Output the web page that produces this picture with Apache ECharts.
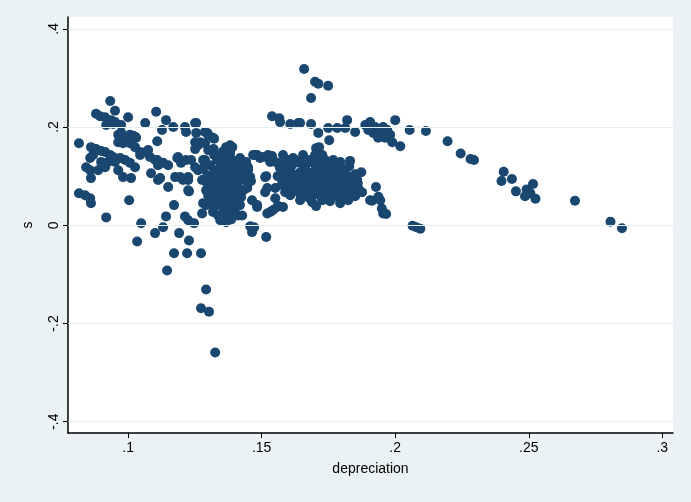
<!DOCTYPE html>
<html><head><meta charset="utf-8">
<script src="https://cdn.jsdelivr.net/npm/echarts@6/dist/echarts.min.js"></script>
<style>html,body{margin:0;padding:0;background:#eaf2f3;}#c{width:691px;height:502px;}</style>
</head><body><div id="c"></div>
<script>
var xTickValues = [0.1, 0.15, 0.2, 0.25, 0.3];
var xTickLabels = ['.1', '.15', '.2', '.25', '.3'];
var yTickValues = [-0.4, -0.2, 0, 0.2, 0.4];
var yTickLabels = ['-.4', '-.2', '0', '.2', '.4'];
var xTitle = 'depreciation';
var yTitle = 's';

// top outliers and upper band (y ~ .2)
var upperBand = [
[0.1659,0.318],[0.1700,0.292],[0.1712,0.288],[0.1749,0.284],[0.1685,0.259],
[0.1539,0.222],[0.1566,0.218],[0.1569,0.210],[0.1607,0.206],[0.1637,0.208],[0.1685,0.206],
[0.1712,0.188],[0.1749,0.198],[0.1753,0.173],[0.1783,0.198],[0.1820,0.214],[0.1813,0.198],
[0.1850,0.190],[0.1715,0.159],[0.1888,0.204],[0.1906,0.210],[0.1925,0.200],[0.1918,0.188],
[0.1936,0.178],[0.1970,0.194],[0.1981,0.184],[0.1989,0.169],[0.2019,0.161],[0.2000,0.214],
[0.1644,0.208],[0.1955,0.200],[0.1947,0.186],[0.1899,0.194],[0.1962,0.178]
];
// right tail
var rightTail = [
[0.2054,0.194],[0.2115,0.192],[0.2196,0.171],[0.2245,0.146],[0.2282,0.135],[0.2295,0.133],
[0.2406,0.109],[0.2398,0.090],[0.2437,0.094],[0.2452,0.069],[0.2492,0.073],[0.2516,0.084],
[0.2506,0.065],[0.2486,0.059],[0.2525,0.054],[0.2673,0.050],[0.2806,0.007],[0.2849,-0.006],
[0.2065,-0.001],[0.2079,-0.004],[0.2094,-0.007],[0.1966,0.023],
[0.1928,0.078],[0.1913,0.050],[0.1937,0.058],[0.1950,0.034],[0.1828,0.120],[0.1873,0.108],
[0.1850,0.104],[0.1839,0.090],[0.1704,0.039],[0.1955,0.024],[0.1944,0.051],[0.1906,0.051]
];
// middle cluster (x ~ .15-.19)
var middleCluster = [
[0.1476,0.143],[0.1494,0.137],[0.1524,0.143],[0.1532,0.129],[0.1580,0.143],[0.1599,0.133],
[0.1614,0.122],[0.1655,0.143],[0.1700,0.143],[0.1727,0.143],[0.1513,0.098],[0.1521,0.076],
[0.1513,0.067],[0.1551,0.076],[0.1551,0.055],[0.1558,0.037],[0.1532,0.027],[0.1580,0.037],
[0.1483,0.037],[0.1569,0.116],[0.1588,0.108],[0.1607,0.112],[0.1625,0.102],[0.1644,0.108],
[0.1663,0.116],[0.1682,0.106],[0.1700,0.112],[0.1719,0.118],[0.1738,0.108],[0.1756,0.112],
[0.1775,0.116],[0.1794,0.104],[0.1813,0.110],[0.1577,0.092],[0.1595,0.086],[0.1614,0.096],
[0.1633,0.088],[0.1652,0.082],[0.1670,0.092],[0.1689,0.086],[0.1708,0.096],[0.1727,0.088],
[0.1745,0.082],[0.1764,0.092],[0.1783,0.086],[0.1801,0.096],[0.1820,0.088],[0.1839,0.082],
[0.1858,0.092],[0.1588,0.067],[0.1607,0.061],[0.1625,0.071],[0.1644,0.063],[0.1663,0.059],
[0.1682,0.069],[0.1700,0.063],[0.1719,0.071],[0.1738,0.061],[0.1756,0.067],[0.1775,0.059],
[0.1794,0.071],[0.1813,0.063],[0.1831,0.069],[0.1850,0.059],[0.1625,0.133],[0.1644,0.127],
[0.1682,0.129],[0.1712,0.129],[0.1738,0.133],[0.1768,0.133],[0.1794,0.129],[0.1831,0.131],
[0.1644,0.051],[0.1689,0.047],[0.1727,0.051],[0.1756,0.049],[0.1794,0.045],[0.1824,0.051],
[0.1861,0.076],[0.1876,0.067],[0.1730,0.116],[0.1682,0.133],[0.1517,0.139],[0.1539,0.141],
[0.1704,0.157],
[0.1560,0.100],[0.1580,0.125],[0.1610,0.104],[0.1640,0.096],[0.1660,0.101],[0.1690,0.098],
[0.1720,0.101],[0.1750,0.097],[0.1770,0.103],[0.1800,0.115],[0.1820,0.100],[0.1840,0.097],
[0.1860,0.085],[0.1600,0.075],[0.1640,0.078],[0.1670,0.075],[0.1710,0.078],[0.1740,0.074],
[0.1770,0.077],[0.1800,0.080],[0.1830,0.075],[0.1660,0.124],[0.1700,0.124],[0.1750,0.124],
[0.1790,0.120],[0.1680,0.055],[0.1720,0.060],[0.1760,0.055],[0.1800,0.057],[0.1620,0.085],
[0.1575,0.082]
];
// cluster around x ~ .125-.16
var centerCluster = [
[0.1251,0.208],[0.1288,0.190],[0.1300,0.184],[0.1318,0.178],[0.1251,0.169],[0.1262,0.163],
[0.1382,0.163],[0.1375,0.149],[0.1371,0.139],[0.1502,0.139],[0.1543,0.133],[0.1558,0.127],
[0.1618,0.137],[0.1419,0.137],[0.1431,0.122],[0.1449,0.112],[0.1457,0.098],[0.1449,0.086],
[0.1517,0.100],[0.1464,0.051],[0.1483,0.041],[0.1521,0.024],[0.1562,0.039],[0.1543,0.031],
[0.1281,0.045],[0.1277,0.024],[0.1427,0.020],[0.1577,0.106],[0.1599,0.088],[0.1457,-0.002],
[0.1404,0.122],[0.1434,0.112],[0.1442,0.129],
[0.1288,0.133],[0.1307,0.122],[0.1326,0.112],[0.1345,0.116],[0.1363,0.108],[0.1382,0.112],
[0.1401,0.102],[0.1419,0.096],[0.1438,0.092],[0.1296,0.102],[0.1315,0.092],[0.1337,0.088],
[0.1352,0.082],[0.1375,0.086],[0.1393,0.080],[0.1412,0.076],[0.1431,0.071],[0.1292,0.071],
[0.1311,0.067],[0.1330,0.061],[0.1348,0.065],[0.1367,0.059],[0.1386,0.055],[0.1404,0.061],
[0.1423,0.057],[0.1307,0.051],[0.1326,0.043],[0.1345,0.041],[0.1363,0.037],[0.1382,0.045],
[0.1401,0.035],[0.1419,0.041],[0.1318,0.027],[0.1337,0.020],[0.1356,0.024],[0.1375,0.018],
[0.1393,0.027],[0.1412,0.020],[0.1345,0.010],[0.1367,0.006],[0.1386,0.012],[0.1281,0.116],
[0.1300,0.153],[0.1322,0.143],[0.1341,0.133],[0.1360,0.137],[0.1390,0.133],[0.1288,0.167],
[0.1296,0.188],[0.1322,0.176],[0.1270,0.169],[0.1390,0.159],[0.1382,0.147],[0.1483,0.143],
[0.1296,0.086],[0.1315,0.078],[0.1333,0.098],[0.1363,0.071],[0.1277,0.092],[0.1262,0.112],
[0.1412,0.116],[0.1446,0.076],[0.1255,0.188],[0.1251,0.155],[0.1367,0.159],[0.1375,0.137],
[0.1468,0.143],[0.1449,0.118],[0.1281,0.133],[0.1333,0.133],[0.1292,0.041],
[0.1300,0.095],[0.1320,0.105],[0.1350,0.098],[0.1380,0.100],[0.1400,0.090],[0.1360,0.092],
[0.1330,0.075],[0.1350,0.072],[0.1390,0.068],[0.1410,0.085],[0.1300,0.060],[0.1340,0.052],
[0.1370,0.048],[0.1400,0.048],[0.1320,0.035],[0.1360,0.030],[0.1380,0.032],[0.1350,0.125],
[0.1370,0.120],[0.1395,0.125],[0.1320,0.155],[0.1355,0.150],[0.1420,0.105],[0.1440,0.100],
[0.1460,0.090]
];
// left cluster (x ~ .08-.125)
var leftCluster = [
[0.0933,0.253],[0.0951,0.233],[0.1000,0.220],[0.0880,0.227],[0.0895,0.222],[0.0914,0.220],
[0.0936,0.214],[0.0918,0.204],[0.0944,0.206],[0.0974,0.204],[0.1105,0.231],[0.1064,0.208],
[0.1142,0.214],[0.1169,0.200],[0.1213,0.200],[0.1217,0.190],[0.1255,0.208],[0.1127,0.194],
[0.1109,0.171],[0.0816,0.167],[0.0974,0.188],[0.0993,0.180],[0.1019,0.182],[0.1030,0.178],
[0.0963,0.169],[0.0981,0.167],[0.1007,0.167],[0.1026,0.159],[0.0861,0.159],[0.0880,0.155],
[0.0899,0.151],[0.0858,0.137],[0.0869,0.143],[0.0914,0.149],[0.0933,0.143],[0.0843,0.118],
[0.0858,0.112],[0.0861,0.096],[0.0888,0.112],[0.0944,0.139],[0.0951,0.129],[0.0970,0.137],
[0.0989,0.133],[0.1007,0.127],[0.1026,0.118],[0.1045,0.143],[0.1067,0.149],[0.1082,0.139],
[0.1101,0.133],[0.1112,0.122],[0.1131,0.127],[0.1150,0.122],[0.1187,0.139],[0.1198,0.127],
[0.1217,0.133],[0.1236,0.133],[0.1251,0.118],[0.0981,0.098],[0.1011,0.096],[0.1086,0.106],
[0.1112,0.092],[0.1150,0.078],[0.1176,0.098],[0.1206,0.092],[0.1225,0.098],[0.0816,0.065],
[0.0839,0.061],[0.0858,0.055],[0.0861,0.045],[0.1004,0.051],[0.0918,0.016],[0.1049,0.004],
[0.1172,0.041],[0.1142,0.018],[0.1131,-0.004],[0.1228,0.069],[0.1213,0.018],[0.1225,0.010],
[0.0951,0.210],[0.0963,0.112],[0.0914,0.118],[0.0925,0.129],[0.0899,0.129],[0.0963,0.184],
[0.1007,0.184],[0.0981,0.169],[0.1045,0.149],[0.1075,0.153],[0.1109,0.133],[0.1184,0.137],
[0.1120,0.096],[0.1195,0.098],[0.1225,0.092],[0.1225,0.071],[0.1026,0.180]
];
// low outliers
var lowOutliers = [
[0.1034,-0.033],[0.1101,-0.016],[0.1191,-0.016],[0.1247,0.004],[0.1228,-0.031],
[0.1172,-0.057],[0.1221,-0.057],[0.1273,-0.057],[0.1146,-0.092],[0.1292,-0.131],
[0.1273,-0.169],[0.1303,-0.176],[0.1326,-0.259],[0.1464,-0.014],[0.1472,-0.004],[0.1517,-0.024]
];

var points = [].concat(upperBand, rightTail, middleCluster, centerCluster, leftCluster, lowOutliers);

var chart = echarts.init(document.getElementById('c'), null, {renderer: 'canvas'});
var font = 'Liberation Sans, Arial, Helvetica, sans-serif';
function lab(values, labels) {
  return function (v) {
    for (var i = 0; i < values.length; i++) if (Math.abs(values[i] - v) < 1e-9) return labels[i];
    return '';
  };
}
chart.setOption({
  backgroundColor: '#eaf2f3',
  animation: false,
  grid: {left: 68, top: 17, right: 18, bottom: 69, show: true, backgroundColor: '#ffffff', borderWidth: 0},
  xAxis: {
    type: 'value', min: 0.0775, max: 0.304,
    name: xTitle, nameLocation: 'middle', nameGap: 29,
    nameTextStyle: {fontFamily: font, fontSize: 14, color: '#000'},
    axisLine: {show: true, onZero: false, lineStyle: {color: '#000', width: 1.5}},
    axisTick: {show: true, length: 5, customValues: xTickValues, lineStyle: {color: '#000', width: 1}},
    axisLabel: {customValues: xTickValues, formatter: lab(xTickValues, xTickLabels), fontFamily: font, fontSize: 14, color: '#000', margin: 8},
    splitLine: {show: false}
  },
  yAxis: {
    type: 'value', min: -0.423, max: 0.424,
    name: yTitle, nameLocation: 'middle', nameGap: 33, nameRotate: 90,
    nameTextStyle: {fontFamily: font, fontSize: 14, color: '#000'},
    axisLine: {show: true, onZero: false, lineStyle: {color: '#000', width: 1.5}},
    axisTick: {show: true, length: 5, customValues: yTickValues, lineStyle: {color: '#000', width: 1}},
    axisLabel: {customValues: yTickValues, formatter: lab(yTickValues, yTickLabels), rotate: 90, fontFamily: font, fontSize: 14, color: '#000', margin: 7},
    splitLine: {show: false}
  },
  series: [
    {
      type: 'scatter', data: [], z: 1, silent: true,
      markLine: {
        silent: true, symbol: 'none', animation: false,
        label: {show: false},
        lineStyle: {color: '#e6eef0', width: 1.2, type: 'solid'},
        data: yTickValues.map(function (v) { return {yAxis: v}; })
      }
    },
    {
      type: 'scatter', data: points, z: 2,
      symbol: 'circle', symbolSize: 10,
      itemStyle: {color: '#1a476f', opacity: 1}
    }
  ]
});
</script>
</body></html>
